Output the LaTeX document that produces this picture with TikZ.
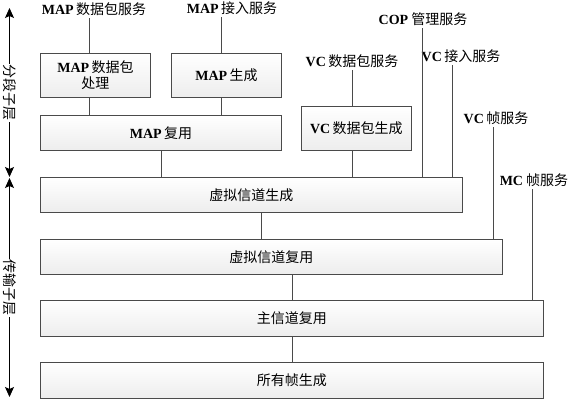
\documentclass[tikz,border=0pt]{standalone}
\usepackage{fontspec}
\setmainfont{Noto Sans CJK SC}
\newfontfamily\latinbf{Liberation Serif}
\usetikzlibrary{arrows.meta, positioning}
\definecolor{boxline}{HTML}{4A4A4A}
\definecolor{boxfill}{HTML}{EDEDED}
\newcommand{\en}[1]{{\latinbf\bfseries #1}}
\tikzset{
  block/.style={draw=boxline, line width=0.8pt, top color=white, bottom color=boxfill, inner sep=0pt, align=center, anchor=north west},
  svc/.style={anchor=south, inner sep=2pt},
  link/.style={draw=boxline, line width=0.8pt},
  span/.style={{Stealth[length=10pt, width=9pt, inset=2pt]}-{Stealth[length=10pt, width=9pt, inset=2pt]}, line width=0.8pt},
  layername/.style={rotate=-90, fill=white, inner sep=1pt},
  every node/.append style={font=\fontsize{14}{16}\selectfont}
}

\begin{document}
\begin{tikzpicture}[x=1pt, y=-1pt]
\useasboundingbox (0,0) rectangle (568,402);
% boxes
\node[block, minimum width=110pt, minimum height=44pt] (mappkt) at (40,53) {\en{MAP}\,数据包\\处理};
\node[block, minimum width=110pt, minimum height=44pt] (mapgen) at (171,53) {\en{MAP}\,生成};
\node[block, minimum width=241pt, minimum height=35pt] (mapmux) at (40,115) {\en{MAP}\,复用};
\node[block, minimum width=110pt, minimum height=44pt] (vcpkt) at (301,106) {\en{VC}\,数据包生成};
\node[block, minimum width=422pt, minimum height=35pt] (vcgen) at (40,177) {虚拟信道生成};
\node[block, minimum width=462pt, minimum height=35pt] (vcmux) at (40,239) {虚拟信道复用};
\node[block, minimum width=503pt, minimum height=36pt] (mcmux) at (40,300) {主信道复用};
\node[block, minimum width=503pt, minimum height=36pt] (allfr) at (40,362) {所有帧生成};
% service points
\coordinate (tmappkt) at (89,18);
\coordinate (tmapacc) at (221,17);
\coordinate (tvcpkt) at (352,70);
\coordinate (tcop) at (422,28);
\coordinate (tvcacc) at (452,65);
\coordinate (tvcfr) at (493,127);
\coordinate (tmc) at (532,189);
\node[svc, xshift=5pt] (lmappkt) at (tmappkt) {\en{MAP}\,数据包服务};
\node[svc, xshift=11pt] (lmapacc) at (tmapacc) {\en{MAP}\,接入服务};
\node[svc] (lvcpkt) at (tvcpkt) {\en{VC}\,数据包服务};
\node[svc, xshift=1pt] (lcop) at (tcop) {\en{COP}\ 管理服务};
\node[svc, xshift=9pt] (lvcacc) at (tvcacc) {\en{VC}\,接入服务};
\node[svc, xshift=3pt] (lvcfr) at (tvcfr) {\en{VC}\,帧服务};
\node[svc, xshift=2pt] (lmc) at (tmc) {\en{MC}\ 帧服务};
% connectors
\draw[link] (tmappkt) -- (tmappkt |- mappkt.north);
\draw[link] (mappkt.south -| tmappkt) -- (mapmux.north -| tmappkt);
\draw[link] (tmapacc) -- (tmapacc |- mapgen.north);
\draw[link] (mapgen.south -| tmapacc) -- (mapmux.north -| tmapacc);
\draw[link] (mapmux.south) -- (mapmux.south |- vcgen.north);
\draw[link] (tvcpkt) -- (tvcpkt |- vcpkt.north);
\draw[link] (vcpkt.south -| tvcpkt) -- (vcgen.north -| tvcpkt);
\draw[link] (tcop) -- (tcop |- vcgen.north);
\draw[link] (tvcacc) -- (tvcacc |- vcgen.north);
\draw[link] (tvcfr) -- (tvcfr |- vcmux.north);
\draw[link] (tmc) -- (tmc |- mcmux.north);
\draw[link] ([xshift=10pt]vcgen.south) -- ([xshift=10pt]vcgen.south |- vcmux.north);
\draw[link] (mcmux.north |- vcmux.south) -- (mcmux.north);
\draw[link] (mcmux.south) -- (allfr.north);
% sublayers
\coordinate (segtop) at (9.5,8);
\coordinate (segbot) at (9.5,177);
\coordinate (trtop) at (9.5,178);
\coordinate (trbot) at (9.5,397);
\draw[span] (segtop) -- node[layername] {分段子层} (segbot);
\draw[span] (trtop) -- node[layername] {传输子层} (trbot);
\end{tikzpicture}
\end{document}
